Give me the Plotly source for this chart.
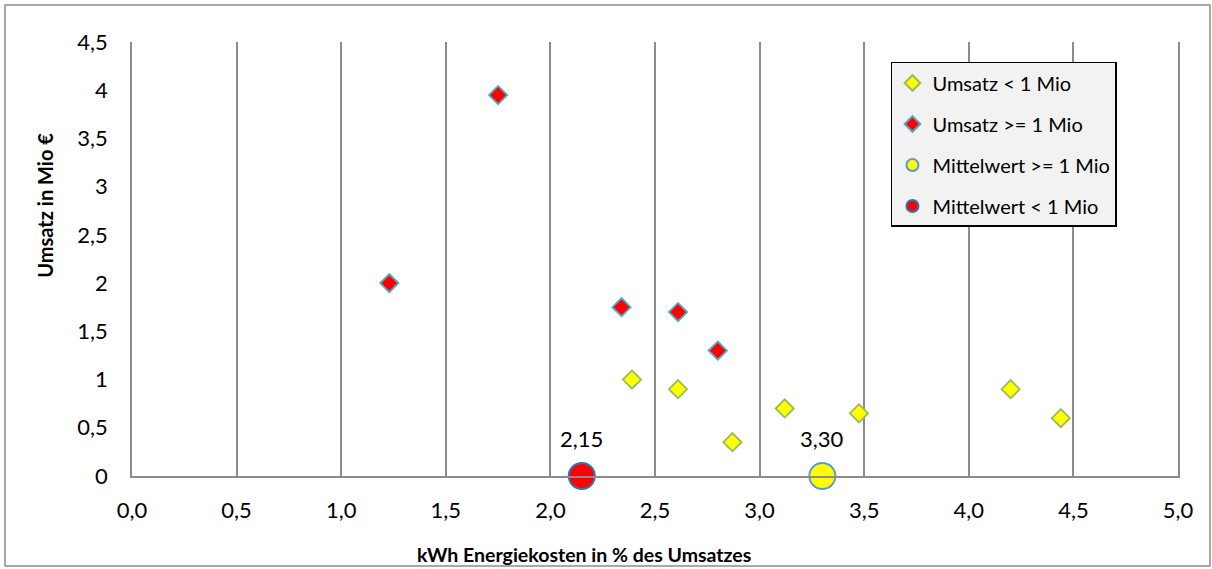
import plotly.graph_objects as go

# Kleine Betriebe (Umsatz < 1 Mio)
small_x = [2.39, 2.61, 2.87, 3.12, 3.475, 4.20, 4.44]
small_y = [1.0, 0.9, 0.35, 0.7, 0.65, 0.9, 0.6]

# Größere Betriebe (Umsatz >= 1 Mio)
large_x = [1.23, 1.75, 2.34, 2.61, 2.80]
large_y = [2.0, 3.95, 1.75, 1.70, 1.30]

# Mittelwerte
mean_yellow = 3.30
mean_red = 2.15

x_ticks = [0.0, 0.5, 1.0, 1.5, 2.0, 2.5, 3.0, 3.5, 4.0, 4.5, 5.0]
y_ticks = [0, 0.5, 1, 1.5, 2, 2.5, 3, 3.5, 4, 4.5]

FONT = "Lato, Calibri, Carlito, sans-serif"
GRID = "#8c8c8c"

fig = go.Figure()

fig.add_trace(go.Scatter(
    x=small_x, y=small_y, mode="markers", name="Umsatz < 1 Mio",
    legendgroup="a",
    marker=dict(symbol="diamond", size=14, color="#FFFF00",
                line=dict(color="#9BBB59", width=1.8)),
))
fig.add_trace(go.Scatter(
    x=large_x, y=large_y, mode="markers", name="Umsatz >= 1 Mio",
    legendgroup="b",
    marker=dict(symbol="diamond", size=14, color="#FF0000",
                line=dict(color="#4BACC6", width=1.8)),
))
fig.add_trace(go.Scatter(
    x=[mean_yellow], y=[0], mode="markers", name="Mittelwert >= 1 Mio",
    legendgroup="c", cliponaxis=False,
    marker=dict(symbol="circle", size=26, color="#FFFF00",
                line=dict(color="#5B9BD5", width=2)),
))
fig.add_trace(go.Scatter(
    x=[mean_red], y=[0], mode="markers", name="Mittelwert < 1 Mio",
    legendgroup="d", cliponaxis=False,
    marker=dict(symbol="circle", size=26, color="#FF0000",
                line=dict(color="#2E75B6", width=2)),
))

# Beschriftung der Mittelwerte
for m in (mean_red, mean_yellow):
    fig.add_annotation(
        x=m, y=0, xref="x", yref="y", yshift=38, showarrow=False,
        text=f"{m:.2f}".replace(".", ","),
        font=dict(family=FONT, size=22, color="#000000"),
    )

# Achsentitel
fig.add_annotation(
    x=-0.0832, y=0.625, xref="paper", yref="paper", showarrow=False,
    xanchor="center", yanchor="middle",
    text="<b>Umsatz in Mio €</b>", textangle=-90,
    font=dict(family=FONT, size=20, color="#000000"),
)
fig.add_annotation(
    x=0.432, y=-0.182, xref="paper", yref="paper", showarrow=False,
    xanchor="center", yanchor="middle",
    text="<b>kWh Energiekosten in % des Umsatzes</b>",
    font=dict(family=FONT, size=19.5, color="#000000"),
)

# Rahmen um das gesamte Diagramm
fig.add_shape(
    type="rect", xref="paper", yref="paper",
    x0=-0.1214, x1=1.0306, y0=-0.2074, y1=1.0853,
    line=dict(color="#8c8c8c", width=1.5), fillcolor="rgba(0,0,0,0)",
    layer="below",
)

fig.update_layout(
    width=1212, height=569,
    margin=dict(l=132, r=34, t=42, b=93),
    paper_bgcolor="#FFFFFF", plot_bgcolor="#FFFFFF",
    separators=",.",
    font=dict(family=FONT, size=21, color="#000000"),
    showlegend=True,
    legend=dict(
        x=0.7256, y=0.954, xanchor="left", yanchor="top",
        bgcolor="#F2F2F2", bordercolor="#000000", borderwidth=1.5,
        font=dict(family=FONT, size=20, color="#000000"),
        tracegroupgap=12, itemsizing="constant", itemwidth=30,
    ),
    xaxis=dict(
        range=[0, 5], tickvals=x_ticks, tickformat=".1f",
        showgrid=True, gridcolor=GRID, gridwidth=1.8,
        showline=True, linecolor=GRID, linewidth=1.8,
        zeroline=False, ticks="", ticklabelstandoff=14,
        tickfont=dict(family=FONT, size=22),
    ),
    yaxis=dict(
        range=[0, 4.5], tickvals=y_ticks,
        showgrid=False, showline=True, mirror=True,
        linecolor=GRID, linewidth=1.8,
        zeroline=False, ticks="", ticklabelstandoff=18,
        tickfont=dict(family=FONT, size=22),
    ),
)

fig.write_html("out.html")
